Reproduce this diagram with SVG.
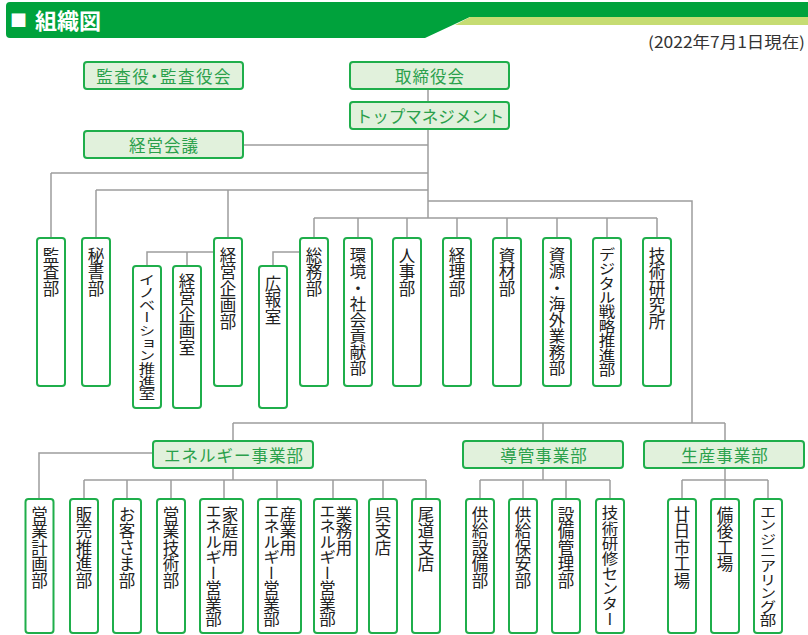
<svg xmlns="http://www.w3.org/2000/svg" width="808" height="635" viewBox="0 0 808 635">
<style>
.ln{stroke:#9d9d9d;stroke-width:1.5;fill:none}
.bx{fill:#ffffff;stroke:#1fae4b;stroke-width:2}
.hb{fill:#e1f1dc;stroke:#1fae4b;stroke-width:2}
.ht{font-family:"Noto Sans CJK JP",sans-serif;font-size:16.5px;fill:#2aa04b;text-anchor:middle;dominant-baseline:central;letter-spacing:1px}
.vt{font-family:"Noto Sans CJK JP",sans-serif;font-size:16.5px;fill:#222222;writing-mode:vertical-rl}
</style>
<rect width="808" height="635" fill="#ffffff"/>
<g id="header">
<path d="M10,2 H808 V17 H470 L425,38 H10 Q6,38 6,34 V6 Q6,2 10,2 Z" fill="#00a23c"/>
<path d="M470,17 H808 V25 H455 Z" fill="#c6dc72"/>
<text x="10" y="27" font-family="'Noto Sans CJK JP',sans-serif" font-size="17" font-weight="bold" fill="#ffffff">■</text>
<text x="35" y="29" font-family="'Noto Sans CJK JP',sans-serif" font-size="22" font-weight="bold" fill="#ffffff">組織図</text>
<text x="648" y="48" font-family="'Noto Sans CJK JP',sans-serif" font-size="15.5" fill="#333333" textLength="157" lengthAdjust="spacingAndGlyphs">(2022年7月1日現在)</text>
</g>
<g id="connectors">
<path class="ln" d="M428,89 V102 M428,129 V218 M244,145 H428 M51,173 H428 M51,173 V238 M96,190 H428 M96,190 V238 M228,190 V238 M428,201 H692 V423"/>
<path class="ln" d="M314,218 H657 M314,218 V238 M358,218 V238 M407,218 V238 M457,218 V238 M507,218 V238 M557,218 V238 M607,218 V238 M657,218 V238"/>
<path class="ln" d="M214,252 H147 V266 M187,252 V266 M300,252 H273 V266"/>
<path class="ln" d="M233,423 H725 M233,423 V441 M543,423 V441 M725,423 V441"/>
<path class="ln" d="M153,453 H39 V499 M233,468 V480 M84,480 H426 M84,480 V499 M127,480 V499 M171,480 V499 M224,480 V499 M277,480 V499 M333,480 V499 M383,480 V499 M426,480 V499"/>
<path class="ln" d="M543,468 V480 M480,480 H610 M480,480 V499 M523,480 V499 M566,480 V499 M610,480 V499"/>
<path class="ln" d="M725,468 V480 M682,480 H768 M682,480 V499 M725,480 V499 M768,480 V499"/>
</g>
<g id="n-kansayaku"><rect class="hb" x="84" y="62" width="159" height="27" rx="3"/><text class="ht" x="164" y="75.5" style="font-feature-settings:'palt';letter-spacing:1.5px">監査役・監査役会</text></g>
<g id="n-torishimari"><rect class="hb" x="350" y="62" width="159" height="27" rx="3"/><text class="ht" x="430" y="75.5">取締役会</text></g>
<g id="n-top"><rect class="hb" x="350" y="102" width="159" height="27" rx="3"/><text class="ht" x="430" y="115.5" style="letter-spacing:0">トップマネジメント</text></g>
<g id="n-keieikaigi"><rect class="hb" x="84" y="131" width="159" height="27" rx="3"/><text class="ht" x="164" y="144.5">経営会議</text></g>

<g id="n-kansabu"><rect class="bx" x="37" y="238" width="28" height="148" rx="3"/><text class="vt" x="51" y="247">監査部</text></g>
<g id="n-hisho"><rect class="bx" x="82" y="238" width="28" height="148" rx="3"/><text class="vt" x="96" y="247">秘書部</text></g>
<g id="n-keiki"><rect class="bx" x="214" y="238" width="28" height="148" rx="3"/><text class="vt" x="228" y="247">経営企画部</text></g>
<g id="n-inov"><rect class="bx" x="133" y="266" width="28" height="142" rx="3"/><text class="vt" transform="translate(147,273) scale(1,0.77)">イノベーション推進室</text></g>
<g id="n-keikishitsu"><rect class="bx" x="173" y="266" width="28" height="142" rx="3"/><text class="vt" x="187" y="273">経営企画室</text></g>
<g id="n-koho"><rect class="bx" x="259" y="266" width="28" height="142" rx="3"/><text class="vt" x="273" y="275">広報室</text></g>
<g id="n-somu"><rect class="bx" x="300" y="238" width="28" height="148" rx="3"/><text class="vt" x="314" y="247">総務部</text></g>
<g id="n-kankyo"><rect class="bx" x="344" y="238" width="28" height="148" rx="3"/><text class="vt" transform="translate(358,247) scale(1,0.98)">環境・社会貢献部</text></g>
<g id="n-jinji"><rect class="bx" x="393" y="238" width="28" height="148" rx="3"/><text class="vt" x="407" y="247">人事部</text></g>
<g id="n-keiri"><rect class="bx" x="443" y="238" width="28" height="148" rx="3"/><text class="vt" x="457" y="247">経理部</text></g>
<g id="n-shizai"><rect class="bx" x="493" y="238" width="28" height="148" rx="3"/><text class="vt" x="507" y="247">資材部</text></g>
<g id="n-kaigai"><rect class="bx" x="543" y="238" width="28" height="148" rx="3"/><text class="vt" transform="translate(557,247) scale(1,0.98)">資源・海外業務部</text></g>
<g id="n-digital"><rect class="bx" x="593" y="238" width="28" height="148" rx="3"/><text class="vt" transform="translate(607,247) scale(1,0.875)">デジタル戦略推進部</text></g>
<g id="n-giken"><rect class="bx" x="643" y="238" width="28" height="148" rx="3"/><text class="vt" x="657" y="247">技術研究所</text></g>

<g id="n-energy"><rect class="hb" x="153" y="441" width="160" height="27" rx="3"/><text class="ht" x="234" y="454.5">エネルギー事業部</text></g>
<g id="n-dokan"><rect class="hb" x="463" y="441" width="160" height="27" rx="3"/><text class="ht" x="544" y="454.5">導管事業部</text></g>
<g id="n-seisan"><rect class="hb" x="644" y="441" width="160" height="27" rx="3"/><text class="ht" x="725" y="454.5">生産事業部</text></g>

<g id="n-eigyokeikaku"><rect class="bx" x="25.5" y="499" width="28" height="134" rx="3"/><text class="vt" x="39.5" y="506">営業計画部</text></g>
<g id="n-hanbai"><rect class="bx" x="70" y="499" width="28" height="134" rx="3"/><text class="vt" x="84" y="506">販売推進部</text></g>
<g id="n-okyaku"><rect class="bx" x="113" y="499" width="28" height="134" rx="3"/><text class="vt" x="127" y="506">お客さま部</text></g>
<g id="n-eigyogijutsu"><rect class="bx" x="157" y="499" width="28" height="134" rx="3"/><text class="vt" x="171" y="506">営業技術部</text></g>
<g id="n-katei"><rect class="bx" x="200" y="499" width="43" height="134" rx="3"/><text class="vt" x="230" y="506">家庭用</text><text class="vt" transform="translate(213.5,503) scale(1,0.94)">エネルギー営業部</text></g>
<g id="n-sangyo"><rect class="bx" x="258" y="499" width="43" height="134" rx="3"/><text class="vt" x="288" y="506">産業用</text><text class="vt" transform="translate(271.5,503) scale(1,0.94)">エネルギー営業部</text></g>
<g id="n-gyomu"><rect class="bx" x="314" y="499" width="43" height="134" rx="3"/><text class="vt" x="344" y="506">業務用</text><text class="vt" transform="translate(327.5,503) scale(1,0.94)">エネルギー営業部</text></g>
<g id="n-kure"><rect class="bx" x="369" y="499" width="28" height="134" rx="3"/><text class="vt" x="383" y="506">呉支店</text></g>
<g id="n-onomichi"><rect class="bx" x="412" y="499" width="28" height="134" rx="3"/><text class="vt" x="426" y="506">尾道支店</text></g>

<g id="n-kyosetsubi"><rect class="bx" x="466" y="499" width="28" height="134" rx="3"/><text class="vt" x="480" y="506">供給設備部</text></g>
<g id="n-kyohoan"><rect class="bx" x="509" y="499" width="28" height="134" rx="3"/><text class="vt" x="523" y="506">供給保安部</text></g>
<g id="n-setsubi"><rect class="bx" x="552" y="499" width="28" height="134" rx="3"/><text class="vt" x="566" y="506">設備管理部</text></g>
<g id="n-kenshu"><rect class="bx" x="596" y="499" width="28" height="134" rx="3"/><text class="vt" transform="translate(610,505) scale(1,0.92)">技術研修センター</text></g>

<g id="n-hatsukaichi"><rect class="bx" x="668" y="499" width="28" height="134" rx="3"/><text class="vt" x="682" y="506">廿日市工場</text></g>
<g id="n-bingo"><rect class="bx" x="711" y="499" width="28" height="134" rx="3"/><text class="vt" x="725" y="506">備後工場</text></g>
<g id="n-engineering"><rect class="bx" x="754" y="499" width="28" height="134" rx="3"/><text class="vt" transform="translate(768,505) scale(1,0.82)">エンジニアリング部</text></g>
</svg>
